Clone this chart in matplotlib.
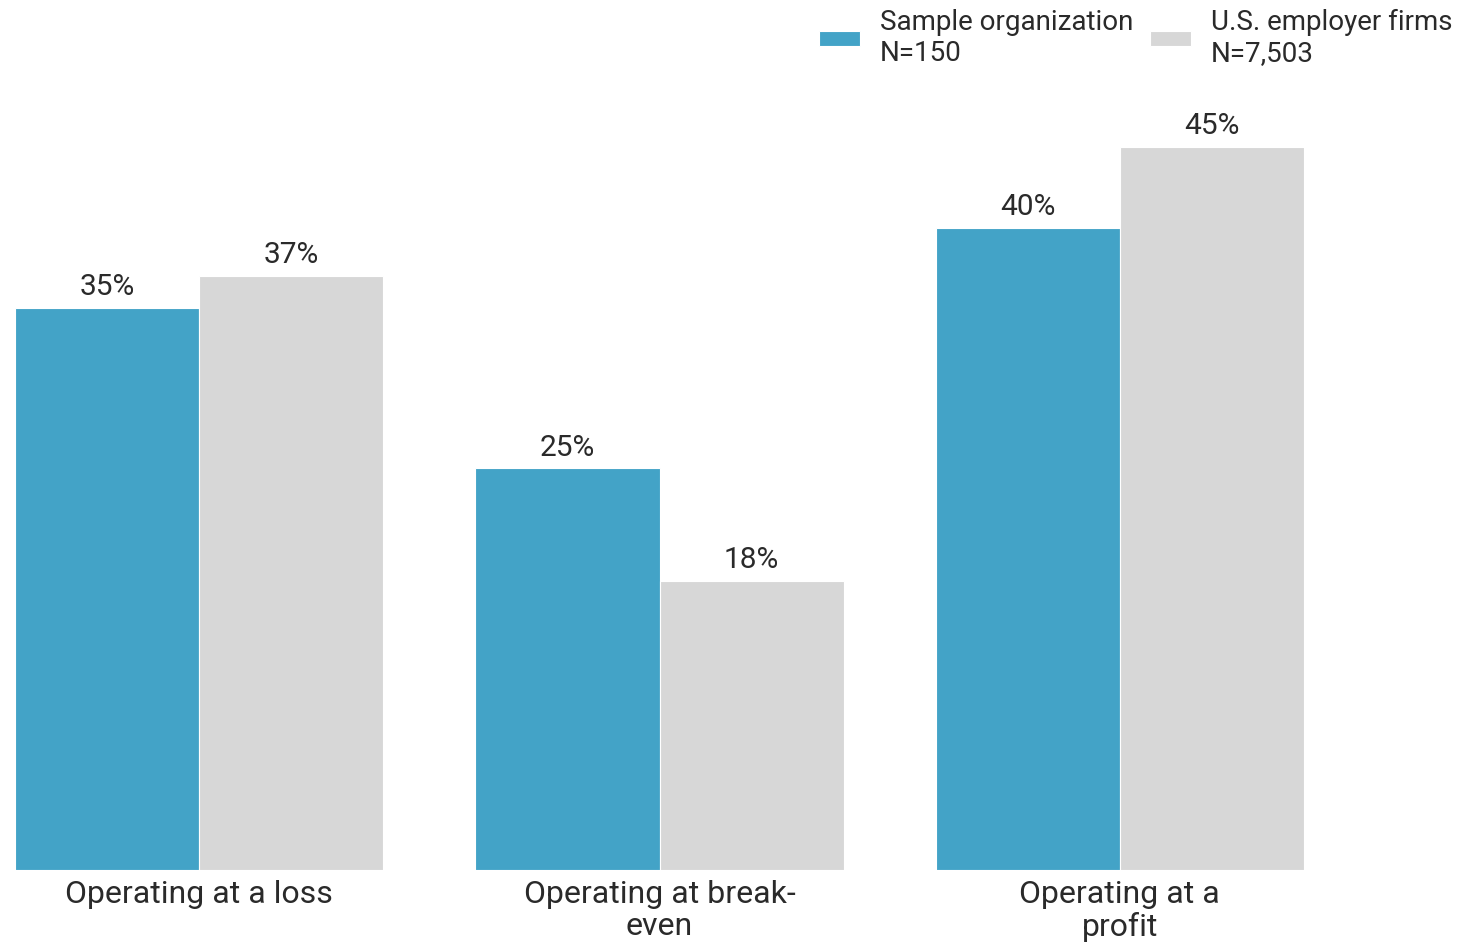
import matplotlib
matplotlib.use("Agg")
import matplotlib.pyplot as plt
import numpy as np

categories = ["Operating at a loss", "Operating at break-\neven", "Operating at a\nprofit"]
series_names = ["Sample organization\nN=150", "U.S. employer firms\nN=7,503"]
sample_vals = [35, 25, 40]
us_vals = [37, 18, 45]
value_labels_sample = ["35%", "25%", "40%"]
value_labels_us = ["37%", "18%", "45%"]

BLUE = "#43A3C7"
GRAY = "#D7D7D7"
TEXT = "#2a2a2a"

plt.rcParams['font.family'] = ['Roboto', 'DejaVu Sans']

fig = plt.figure(figsize=(14.58, 9.47), dpi=100)
W, H = 1458, 947
ax = fig.add_axes([15 / W, 77 / H, 1289 / W, 803 / H])

x = np.arange(len(categories))
bw = 0.4
b1 = ax.bar(x - bw / 2, sample_vals, width=bw, color=BLUE, edgecolor="white", linewidth=0.8,
            label=series_names[0])
b2 = ax.bar(x + bw / 2, us_vals, width=bw, color=GRAY, edgecolor="white", linewidth=0.8,
            label=series_names[1])

for rect, lab in zip(b1, value_labels_sample):
    ax.annotate(lab, (rect.get_x() + rect.get_width() / 2, rect.get_height()),
                xytext=(0, 5), textcoords="offset points", ha="center", va="bottom",
                fontsize=21.5, color=TEXT)
for rect, lab in zip(b2, value_labels_us):
    ax.annotate(lab, (rect.get_x() + rect.get_width() / 2, rect.get_height()),
                xytext=(0, 5), textcoords="offset points", ha="center", va="bottom",
                fontsize=21.5, color=TEXT)

ax.set_xlim(-0.4, 2.4)
ax.set_ylim(0, 50)
ax.set_xticks(x)
ax.set_xticklabels(categories, fontsize=23, color=TEXT, linespacing=1.15)
ax.tick_params(axis="x", length=0, pad=7)
ax.set_yticks([])
for s in ax.spines.values():
    s.set_visible(False)

fig.legend(handles=[b1, b2], labels=series_names, loc="upper right",
           bbox_to_anchor=(1458 / W - 0.002, 1.0 - 6 / H), ncol=2, frameon=False,
           fontsize=20, handlelength=1.5, handleheight=0.45, handletextpad=0.7,
           columnspacing=0.6, labelcolor=TEXT, borderaxespad=0.0, borderpad=0.1,
           labelspacing=0.3)

fig.savefig("out.png", dpi=100)
